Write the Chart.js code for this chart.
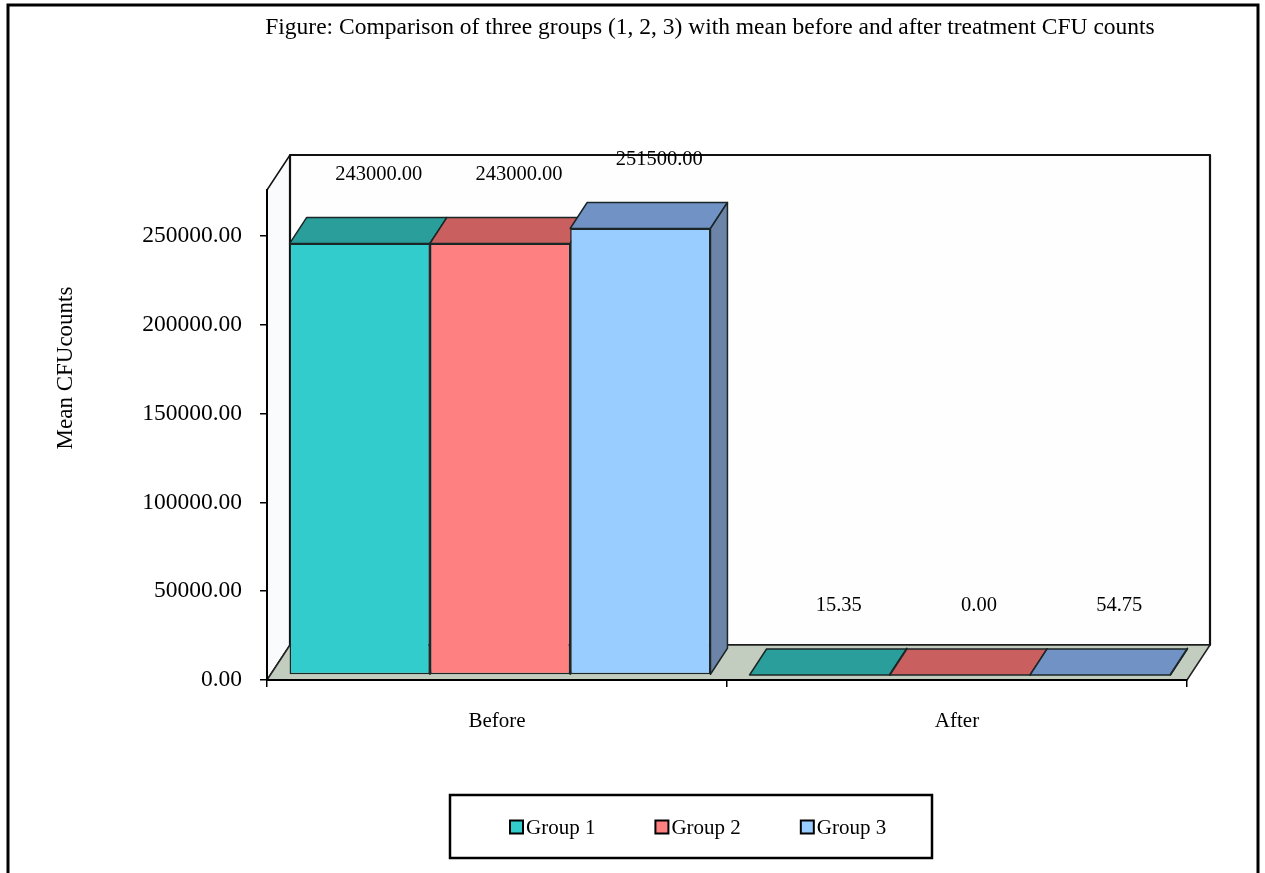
<!DOCTYPE html>
<html>
<head>
<meta charset="utf-8">
<script src="https://cdn.jsdelivr.net/npm/chart.js@4/dist/chart.umd.min.js"></script>
<style>
  html, body { margin: 0; padding: 0; background: #ffffff; }
  canvas { display: block; }
</style>
</head>
<body>
<canvas id="cfu" width="1265" height="873"></canvas>
<script>
// ---- data ----
const categories = ['Before', 'After'];
const seriesNames = ['Group 1', 'Group 2', 'Group 3'];
const group1 = [243000.00, 15.35];
const group2 = [243000.00, 0.00];
const group3 = [251500.00, 54.75];
const yTicks = [0, 50000, 100000, 150000, 200000, 250000];
const yMax = 276000;
const chartTitle = 'Figure: Comparison of three groups (1, 2, 3) with mean before and after treatment CFU counts';
const yTitle = 'Mean CFUcounts';

// ---- style ----
const frontColors = ['#33cccc', '#ff8080', '#99ccff'];
const topColors   = ['#2a9e9a', '#c95f5f', '#7092c4'];
const sideColors  = ['#23807e', '#a84c4c', '#6c84a8'];
const edgeColor = '#1b2626';
const FONT = '"Liberation Serif", "Times New Roman", serif';

const WALL  = { dx: 23, dy: -35 };  // depth of floor and walls
const BAR_IN = { dx: 3, dy: -5 };   // bars sit a little behind the front plane
const BAR_D = { dx: 17, dy: -26 };  // depth of each bar block

function poly(ctx, pts, fill, stroke, lw) {
  ctx.beginPath();
  ctx.moveTo(pts[0][0], pts[0][1]);
  for (let i = 1; i < pts.length; i++) ctx.lineTo(pts[i][0], pts[i][1]);
  ctx.closePath();
  if (fill) { ctx.fillStyle = fill; ctx.fill(); }
  if (stroke) { ctx.strokeStyle = stroke; ctx.lineWidth = lw || 1; ctx.stroke(); }
}

const box3d = {
  id: 'box3d',
  beforeDraw(chart) {
    const ctx = chart.ctx;
    ctx.save();
    // outer frame (open at the bottom)
    ctx.strokeStyle = '#000';
    ctx.lineWidth = 3;
    ctx.beginPath();
    ctx.moveTo(8, 880);
    ctx.lineTo(8, 5);
    ctx.lineTo(1258, 5);
    ctx.lineTo(1258, 880);
    ctx.stroke();
    // title
    ctx.fillStyle = '#000';
    ctx.font = '23.5px ' + FONT;
    ctx.textAlign = 'center';
    ctx.textBaseline = 'middle';
    ctx.fillText(chartTitle, 710, 28);
    // y axis title
    ctx.translate(66, 368);
    ctx.rotate(-Math.PI / 2);
    ctx.font = '23px ' + FONT;
    ctx.fillText(yTitle, 0, 0);
    ctx.restore();
  },
  beforeDatasetsDraw(chart) {
    const ctx = chart.ctx;
    const { left: L, right: R, top: T, bottom: B } = chart.chartArea;
    ctx.save();
    ctx.lineJoin = 'round';
    // left wall
    poly(ctx, [[L, T], [L + WALL.dx, T + WALL.dy], [L + WALL.dx, B + WALL.dy], [L, B]], '#fafbfd', '#111', 1.5);
    // back wall
    poly(ctx, [[L + WALL.dx, T + WALL.dy], [R + WALL.dx, T + WALL.dy], [R + WALL.dx, B + WALL.dy], [L + WALL.dx, B + WALL.dy]], '#fefefe', '#111', 2.2);
    // floor
    poly(ctx, [[L, B], [L + WALL.dx, B + WALL.dy], [R + WALL.dx, B + WALL.dy], [R, B]], '#c3cdbf', '#222', 1.5);
    ctx.restore();
  },
  beforeDatasetDraw() {
    // blocks are drawn together below so the faces overlap in order
    return false;
  },
  afterDatasetsDraw(chart) {
    const ctx = chart.ctx;
    const metas = chart.data.datasets.map((_, i) => chart.getDatasetMeta(i));
    ctx.save();
    ctx.translate(BAR_IN.dx, BAR_IN.dy);
    ctx.lineJoin = 'round';
    for (let c = 0; c < categories.length; c++) {
      metas.forEach((meta, d) => {
        const el = meta.data[c];
        const half = el.width / 2;
        const l = el.x - half, r = el.x + half, t = el.y, b = el.base;
        el.draw(ctx);
        // top face
        poly(ctx, [[l, t], [l + BAR_D.dx, t + BAR_D.dy], [r + BAR_D.dx, t + BAR_D.dy], [r, t]], topColors[d], edgeColor, 1.5);
        // side face
        poly(ctx, [[r, t], [r + BAR_D.dx, t + BAR_D.dy], [r + BAR_D.dx, b + BAR_D.dy], [r, b]], sideColors[d], edgeColor, 1.5);
      });
    }
    ctx.restore();

    // value labels
    ctx.save();
    ctx.fillStyle = '#000';
    ctx.font = '20.5px ' + FONT;
    ctx.textAlign = 'center';
    ctx.textBaseline = 'middle';
    metas.forEach((meta, d) => {
      meta.data.forEach((el, c) => {
        const v = chart.data.datasets[d].data[c];
        ctx.fillText(v.toFixed(2), el.x + BAR_IN.dx + 19, el.y - 74);
      });
    });
    ctx.restore();
  },
  afterDraw(chart) {
    // legend box
    const ctx = chart.ctx;
    ctx.save();
    ctx.strokeStyle = '#000';
    ctx.lineWidth = 2.5;
    ctx.strokeRect(450, 795, 482, 63);
    ctx.font = '21px ' + FONT;
    ctx.textBaseline = 'middle';
    ctx.textAlign = 'left';
    let x = 510;
    const yc = 827;
    chart.data.datasets.forEach((ds, i) => {
      ctx.fillStyle = ds.backgroundColor;
      ctx.fillRect(x, yc - 6.5, 13, 13);
      ctx.lineWidth = 2;
      ctx.strokeStyle = '#000';
      ctx.strokeRect(x, yc - 6.5, 13, 13);
      ctx.fillStyle = '#000';
      ctx.fillText(ds.label, x + 16, yc + 1);
      x += 16 + ctx.measureText(ds.label).width + 60;
    });
    ctx.restore();
  }
};

const seriesValues = [group1, group2, group3];

new Chart(document.getElementById('cfu'), {
  type: 'bar',
  data: {
    labels: categories,
    datasets: seriesNames.map((name, i) => ({
      label: name,
      data: seriesValues[i],
      backgroundColor: frontColors[i],
      borderColor: edgeColor,
      borderWidth: 1.5,
      borderSkipped: false,
      categoryPercentage: 0.915,
      barPercentage: 1.0
    }))
  },
  options: {
    responsive: false,
    devicePixelRatio: 1,
    animation: false,
    layout: { padding: { left: 67, right: 78, top: 190, bottom: 133 } },
    plugins: {
      legend: { display: false },
      title: { display: false },
      tooltip: { enabled: false }
    },
    scales: {
      x: {
        afterFit(scale) { scale.height = 60; },
        grid: { drawOnChartArea: false, drawTicks: true, tickLength: 7, color: '#000', lineWidth: 1.5, offset: true },
        border: { display: true, color: '#000', width: 2, z: 1 },
        ticks: { color: '#000', font: { family: FONT, size: 21 }, padding: 22 }
      },
      y: {
        min: 0,
        max: yMax,
        afterFit(scale) { scale.width = 200; },
        afterBuildTicks(scale) { scale.ticks = yTicks.map(v => ({ value: v })); },
        grid: { drawOnChartArea: false, drawTicks: true, tickLength: 7, color: '#000', lineWidth: 1.5 },
        border: { display: true, color: '#000', width: 2, z: 1 },
        ticks: {
          color: '#000',
          font: { family: FONT, size: 23.5 },
          padding: 18,
          callback: v => Number(v).toFixed(2)
        }
      }
    }
  },
  plugins: [box3d]
});
</script>
</body>
</html>
